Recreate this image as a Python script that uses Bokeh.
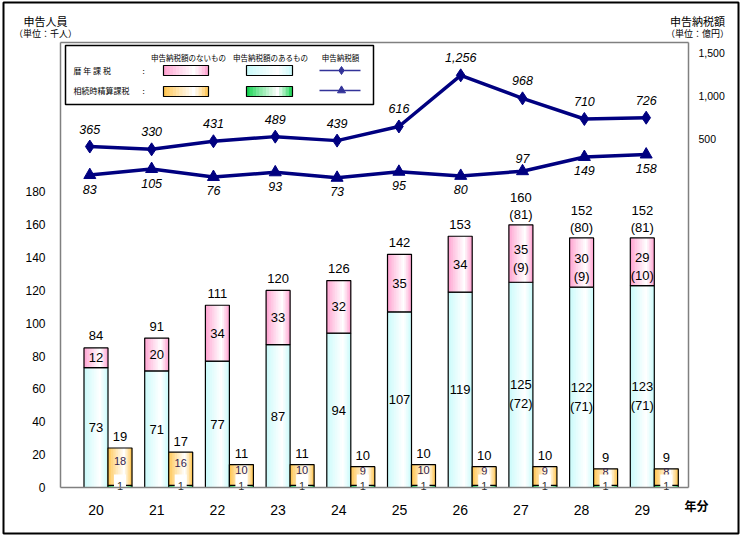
import numpy as np
from bokeh.plotting import figure
from bokeh.models import (Range1d, LinearAxis, FixedTicker, NumeralTickFormatter,
                          ColumnDataSource)
from bokeh.core.properties import value
from bokeh.embed import file_html
from bokeh.resources import INLINE

# ---------------- data ----------------
years = ["20", "21", "22", "23", "24", "25", "26", "27", "28", "29"]
# 暦年課税 申告人員 (千人)
rekinen_with_tax = [73, 71, 77, 87, 94, 107, 119, 125, 122, 123]      # 申告納税額のあるもの
rekinen_without_tax = [12, 20, 34, 33, 32, 35, 34, 35, 30, 29]        # 申告納税額のないもの
rekinen_total = [84, 91, 111, 120, 126, 142, 153, 160, 152, 152]
rekinen_total_paren = [None, None, None, None, None, None, None, 81, 80, 81]
rekinen_with_paren = [None, None, None, None, None, None, None, 72, 71, 71]
rekinen_without_paren = [None, None, None, None, None, None, None, 9, 9, 10]
# 相続時精算課税 申告人員 (千人)
seisan_with_tax = [1, 1, 1, 1, 1, 1, 1, 1, 1, 1]
seisan_without_tax = [18, 16, 10, 10, 9, 10, 9, 9, 8, 8]
seisan_total = [19, 17, 11, 11, 10, 10, 10, 10, 9, 9]
# 申告納税額 (億円)
rekinen_tax_amount = [365, 330, 431, 489, 439, 616, 1256, 968, 710, 726]
seisan_tax_amount = [83, 105, 76, 93, 73, 95, 80, 97, 149, 158]
left_ticks = [0, 20, 40, 60, 80, 100, 120, 140, 160, 180]
right_ticks = [500, 1000, 1500]

# ---------------- geometry (page pixels) ----------------
W_FIG, H_FIG = 741, 536
OL, OT, OR, OB = 3, 2, 738, 533          # outer frame
FL, FR, FT, FB = 60, 688, 42, 487        # plot area
CAT0, CATD = 95.5, 60.7                  # category centre / spacing in px
LINE0, LINED = 89.3, 61.82               # line chart point spacing in px
PPU_L = 1.642                            # px per 千人 (left axis)
PPU_S = 2.08                             # px per 千人 (相続時精算課税 bars)
PPU_R, R0 = 0.086, 181.0                 # right axis
PPU_RK, RK0 = 0.0799, 175.2              # 暦年課税 line
PPU_SZ, SZ0 = 0.274, 197.3               # 相続時精算課税 line


def Xm(px): return (px - CAT0) / CATD
def Ym(py): return (FB - py) / PPU_L
def Xl(px): return (px - LINE0) / LINED
def Yr(py): return (R0 - py) / PPU_R
def Yrk(py): return (RK0 - py) / PPU_RK
def Ysz(py): return (SZ0 - py) / PPU_SZ
def Ys(py): return (FB - py) / PPU_S


JP = value("Noto Sans CJK JP")
NUM = value("Liberation Sans")
GREY = "#808080"

p = figure(width=W_FIG, height=H_FIG, output_backend="svg", toolbar_location=None,
           x_range=Range1d(Xm(OL), Xm(OR)), y_range=Range1d(Ym(OB), Ym(OT)),
           min_border_left=OL, min_border_right=W_FIG - OR,
           min_border_top=OT, min_border_bottom=H_FIG - OB,
           x_axis_location=None, y_axis_location=None)
p.extra_y_ranges = {
    "tax_axis": Range1d(Yr(OB), Yr(OT)),
    "rk_line": Range1d(Yrk(OB), Yrk(OT)),
    "sz_line": Range1d(Ysz(OB), Ysz(OT)),
    "sz_bar": Range1d(Ys(OB), Ys(OT)),
}
p.extra_x_ranges = {"line_x": Range1d(Xl(OL), Xl(OR))}
p.xgrid.visible = False
p.ygrid.visible = False
p.outline_line_color = "black"
p.outline_line_width = 2
p.background_fill_color = "white"
p.border_fill_color = "white"

idx = np.arange(len(years))


def style_axis(ax, size):
    ax.axis_line_color = GREY
    ax.axis_line_width = 1.5
    ax.major_tick_line_color = None
    ax.minor_tick_line_color = None
    ax.major_label_text_font = "Liberation Sans"
    ax.major_label_text_color = "black"
    ax.major_label_text_font_size = size


xax = LinearAxis(ticker=FixedTicker(ticks=list(idx)),
                 major_label_overrides={int(i): y for i, y in zip(idx, years)},
                 fixed_location=0, bounds=(Xm(FL), Xm(FR)))
style_axis(xax, "14px")
xax.major_label_standoff = 11
p.add_layout(xax, "below")

yax = LinearAxis(ticker=FixedTicker(ticks=left_ticks), fixed_location=Xm(FL),
                 bounds=(0, Ym(FT)))
style_axis(yax, "12px")
yax.major_label_standoff = 9
p.add_layout(yax, "left")

rax = LinearAxis(y_range_name="tax_axis", ticker=FixedTicker(ticks=right_ticks),
                 formatter=NumeralTickFormatter(format="0,0"),
                 fixed_location=Xm(FR), bounds=(Yr(FB), Yr(FT)))
style_axis(rax, "10.5px")
rax.major_label_standoff = 4
p.add_layout(rax, "right")

tax = LinearAxis(ticker=FixedTicker(ticks=[]), fixed_location=Ym(FT),
                 bounds=(Xm(FL), Xm(FR)))
style_axis(tax, "1px")
p.add_layout(tax, "above")


# ---------------- gradient bars ----------------
def hex2rgb(h):
    h = h.lstrip("#")
    return [int(h[i:i + 2], 16) for i in (0, 2, 4)]


def grad_source(centers, bottoms, tops, width, edge, peak=0.68, K=14):
    er = hex2rgb(edge)
    d = dict(x=[], w=[], bottom=[], top=[], color=[])
    eps = 0.6 / CATD
    for k in range(K):
        t = (k + 0.5) / K
        wgt = t / peak if t < peak else (1 - t) / (1 - peak)
        wgt = min(1.0, wgt ** 0.8)
        col = "#%02x%02x%02x" % tuple(int(round(c + (255 - c) * wgt)) for c in er)
        for c, b, tp in zip(centers, bottoms, tops):
            d["x"].append(c - width / 2 + (k + 0.5) * width / K)
            d["w"].append(width / K + eps)
            d["bottom"].append(b)
            d["top"].append(tp)
            d["color"].append(col)
    return ColumnDataSource(d)


PINK, CYAN, ORANGE, GREEN = "#ff99cc", "#c4fafa", "#ffc040", "#00d040"
BW = 24 / CATD
main_x = idx
sec_x = idx + BW
cy_top = np.array(rekinen_with_tax, dtype=float)
pk_top = cy_top + np.array(rekinen_without_tax)
gr_top = np.array(seisan_with_tax, dtype=float)
or_top = gr_top + np.array(seisan_without_tax)

# legend frame (drawn first)
p.quad(left=[Xm(65)], right=[Xm(373)], top=[Ym(45)], bottom=[Ym(104)],
       fill_color="white", line_color="black", line_width=1.5)

for centers, bots, tops, col, yr in [
    (main_x, np.zeros(10), cy_top, CYAN, "default"),
    (main_x, cy_top, pk_top, PINK, "default"),
    (sec_x, np.zeros(10), gr_top, GREEN, "sz_bar"),
    (sec_x, gr_top, or_top, ORANGE, "sz_bar"),
]:
    src = grad_source(centers, bots, tops, BW, col)
    p.vbar(x="x", width="w", bottom="bottom", top="top", fill_color="color",
           line_color=None, source=src, y_range_name=yr)
    p.vbar(x=centers, width=BW, bottom=bots, top=tops, fill_color=None,
           line_color="black", line_width=1.2, y_range_name=yr)


# ---------------- bar labels ----------------
def tx(x, y, text, size="13px", yr="default", xr="default", color="black",
       font=NUM, align="center", style="normal"):
    p.text(x=list(x), y=list(y), text=list(text), text_align=align,
           text_baseline="middle", text_font=font, text_font_size=size,
           text_font_style=style, text_color=color,
           y_range_name=yr, x_range_name=xr)


plain = [i for i in idx if rekinen_total_paren[i] is None]
paren = [i for i in idx if rekinen_total_paren[i] is not None]
# totals
tx([main_x[i] for i in plain], [pk_top[i] + 12 / PPU_L for i in plain],
   [str(rekinen_total[i]) for i in plain])
tx([main_x[i] for i in paren], [pk_top[i] + 27 / PPU_L for i in paren],
   [str(rekinen_total[i]) for i in paren])
tx([main_x[i] for i in paren], [pk_top[i] + 10 / PPU_L for i in paren],
   ["(%d)" % rekinen_total_paren[i] for i in paren])
# pink segment
pk_mid = (cy_top + pk_top) / 2
tx([main_x[i] for i in plain], [pk_mid[i] for i in plain],
   [str(rekinen_without_tax[i]) for i in plain])
tx([main_x[i] for i in paren], [pk_mid[i] + 4 / PPU_L for i in paren],
   [str(rekinen_without_tax[i]) for i in paren])
tx([main_x[i] for i in paren], [pk_mid[i] - 14 / PPU_L for i in paren],
   ["(%d)" % rekinen_without_paren[i] for i in paren])
# cyan segment
cy_mid = cy_top / 2
tx([main_x[i] for i in plain], [cy_mid[i] for i in plain],
   [str(rekinen_with_tax[i]) for i in plain])
tx([main_x[i] for i in paren], [cy_mid[i] for i in paren],
   [str(rekinen_with_tax[i]) for i in paren])
tx([main_x[i] for i in paren], [cy_mid[i] - 19 / PPU_L for i in paren],
   ["(%d)" % rekinen_with_paren[i] for i in paren])
# 相続時精算課税 bars
tx(sec_x, or_top + 11 / PPU_S, [str(v) for v in seisan_total], yr="sz_bar")
tx(sec_x, (or_top + 13 / PPU_S) / 2, [str(v) for v in seisan_without_tax],
   size="11px", yr="sz_bar", color="#33224d")
p.rect(x=sec_x, y=np.full(10, 5 / PPU_S), width=12, height=16,
       width_units="screen", height_units="screen", fill_color="white",
       line_color=None, y_range_name="sz_bar")
tx(sec_x, np.full(10, 2 / PPU_S), [str(v) for v in seisan_with_tax],
   size="11px", yr="sz_bar", color="#333333")

# ---------------- lines ----------------
NAVY = "#000080"
lx = np.arange(len(years))
p.line(lx, rekinen_tax_amount, x_range_name="line_x", y_range_name="rk_line",
       line_color=NAVY, line_width=3.5)
p.scatter(lx, rekinen_tax_amount, x_range_name="line_x", y_range_name="rk_line",
          marker="diamond", size=13, fill_color=NAVY, line_color=NAVY)
p.line(lx, seisan_tax_amount, x_range_name="line_x", y_range_name="sz_line",
       line_color=NAVY, line_width=3.5)
p.scatter(lx, seisan_tax_amount, x_range_name="line_x", y_range_name="sz_line",
          marker="triangle", size=12, fill_color=NAVY, line_color=NAVY)

tx(lx, [v + 17.5 / PPU_RK for v in rekinen_tax_amount],
   ["{:,}".format(v) for v in rekinen_tax_amount],
   size="12.5px", yr="rk_line", xr="line_x", style="italic")
label_above = [False, False, False, False, False, False, False, True, False, False]
tx(lx, [v + (13 if a else -14) / PPU_SZ for v, a in zip(seisan_tax_amount, label_above)],
   ["{:,}".format(v) for v in seisan_tax_amount],
   size="12.5px", yr="sz_line", xr="line_x", style="italic")

# ---------------- legend contents ----------------
for (l, r, t, b, col) in [(163, 208, 65, 75, PINK), (246, 292, 65, 75, CYAN),
                          (163, 208, 86, 96, ORANGE), (246, 292, 86, 96, GREEN)]:
    src = grad_source([Xm((l + r) / 2)], [Ym(b)], [Ym(t)], Xm(r) - Xm(l), col)
    p.vbar(x="x", width="w", bottom="bottom", top="top", fill_color="color",
           line_color=None, source=src)
    p.vbar(x=[Xm((l + r) / 2)], width=Xm(r) - Xm(l), bottom=[Ym(b)], top=[Ym(t)],
           fill_color=None, line_color="black", line_width=1.2)
LEG = "#333399"
for yy, mk in [(70, "diamond"), (90, "triangle")]:
    p.line([Xm(319), Xm(360)], [Ym(yy), Ym(yy)], line_color=LEG, line_width=1.5)
    p.scatter([Xm(341)], [Ym(yy)], marker=mk, size=8, fill_color=LEG, line_color=LEG)

tx([Xm(188), Xm(270), Xm(340)], [Ym(57)] * 3,
   ["申告納税額のないもの", "申告納税額のあるもの", "申告納税額"],
   size="7.5px", font=JP)
tx([Xm(73), Xm(73)], [Ym(70), Ym(90)], ["暦 年 課 税", "相続時精算課税"],
   size="8px", font=JP, align="left")
tx([Xm(143), Xm(143)], [Ym(70), Ym(90)], [":", ":"], size="8px", font=JP)

# ---------------- outer titles ----------------
tx([Xm(45), Xm(697)], [Ym(20), Ym(20)], ["申告人員", "申告納税額"], size="11px", font=JP)
tx([Xm(45), Xm(697)], [Ym(33), Ym(33)], ["（単位：千人）", "（単位：億円）"],
   size="9px", font=JP)
tx([Xm(696)], [Ym(505)], ["年分"], size="12px", font=JP, style="bold")

open("out.html", "w").write(file_html(p, INLINE))
